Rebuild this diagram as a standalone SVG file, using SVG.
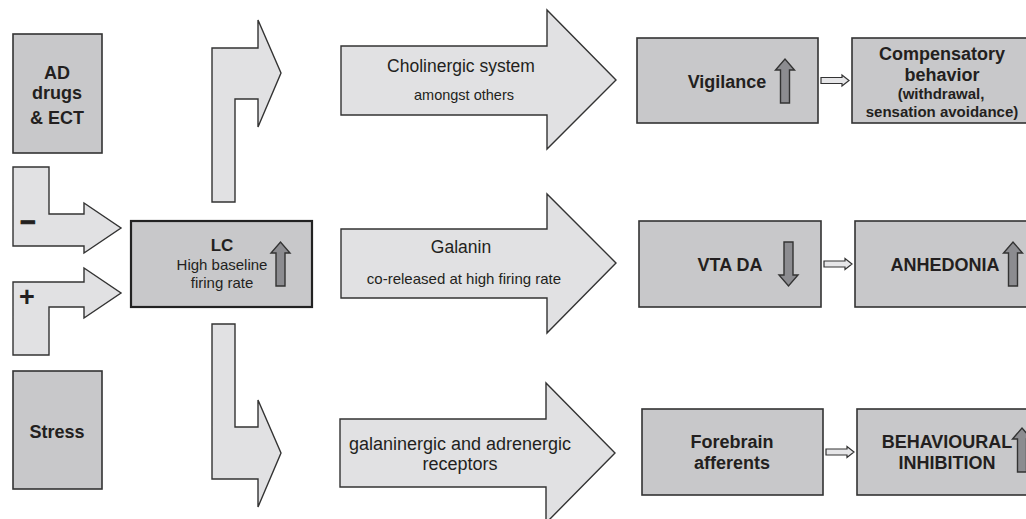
<svg xmlns="http://www.w3.org/2000/svg" xmlns:xlink="http://www.w3.org/1999/xlink" width="1026" height="519" viewBox="0 0 1026 519">
<style>
.box{fill:#c8c8ca;stroke:#333;stroke-width:1.6}
.lc{fill:#c8c8ca;stroke:#222;stroke-width:2.2}
.big{fill:#e1e1e3;stroke:#333;stroke-width:1.4;stroke-linejoin:miter}
.con{fill:#e6e6e8;stroke:#333;stroke-width:1.2}
.ind{fill:#8c8c90;stroke:#333;stroke-width:1.4}
.b{font-family:"Liberation Sans",Arial,sans-serif;font-weight:bold;fill:#231f20;text-anchor:middle}
.n{font-family:"Liberation Sans",Arial,sans-serif;fill:#231f20;text-anchor:middle}
.sign{stroke:#231f20;stroke-width:1}
</style>
<defs>
<path id="up" d="M-4.5,44 V11 H-9.5 L0,0 L9.5,11 H4.5 V44 Z"/>
<path id="down" d="M-4.5,0 H4.5 V33 H9.5 L0,44 L-9.5,33 H-4.5 Z"/>
</defs>
<rect width="1026" height="519" fill="#ffffff"/>

<g id="connectors">
<polygon class="big" points="13,167 49,167 49,214 84,214 84,203 121,228 84,253 84,246 13,246"/>
<polygon class="big" points="13,355 13,282 84,282 84,268 121,293 84,318 84,307 49,307 49,355"/>
<polygon class="big" points="212,202 212,48 258,48 258,20 281,73 258,127 258,99 235,99 235,202"/>
<polygon class="big" points="212,324 235,324 235,427 258,427 258,400 281,453 258,507 258,479 212,479"/>
<polygon class="big" points="341,46 547,46 547,10 616,80 547,149 547,115 341,115"/>
<polygon class="big" points="341,229 547,229 547,194 616,263 547,333 547,298 341,298"/>
<polygon class="big" points="340,419 546,419 546,383 615,453 546,523 546,487 340,487"/>
<path class="con" d="M821,77.5 H842 V75 L849,80.5 L842,86 V83.5 H821 Z"/>
<path class="con" d="M824,261 H845 V258.5 L852,264 L845,269.5 V267 H824 Z"/>
<path class="con" d="M826,449 H847 V446.5 L854,452 L847,457.5 V455 H826 Z"/>
<text class="b sign" x="28" y="231" font-size="27">−</text>
<text class="b" x="27" y="306" font-size="27">+</text>
<text class="n" x="461" y="72" font-size="17.5">Cholinergic system</text>
<text class="n" x="464" y="100" font-size="14.5">amongst others</text>
<text class="n" x="461" y="253" font-size="17.5">Galanin</text>
<text class="n" x="464" y="284" font-size="15">co-released at high firing rate</text>
<text class="n" x="460" y="450" font-size="18">galaninergic and adrenergic</text>
<text class="n" x="460" y="470" font-size="18">receptors</text>
</g>

<g id="ad">
<rect class="box" x="13" y="34" width="89" height="119"/>
<text class="b" x="57" y="79" font-size="18">AD</text>
<text class="b" x="57" y="99" font-size="18">drugs</text>
<text class="b" x="57" y="124" font-size="18">&amp; ECT</text>
</g>

<g id="stress">
<rect class="box" x="13" y="371" width="89" height="118"/>
<text class="b" x="57" y="438" font-size="18">Stress</text>
</g>

<g id="lc">
<rect class="lc" x="131" y="221" width="181" height="86"/>
<text class="b" x="222" y="251" font-size="17">LC</text>
<text class="n" x="222" y="270" font-size="15">High baseline</text>
<text class="n" x="222" y="288" font-size="15">firing rate</text>
<use xlink:href="#up" class="ind" x="280.5" y="242"/>
</g>

<g id="vigilance">
<rect class="box" x="637" y="38" width="181" height="85"/>
<text class="b" x="727" y="88" font-size="18">Vigilance</text>
<use xlink:href="#up" class="ind" x="785" y="59"/>
</g>

<g id="compensatory">
<rect class="box" x="852" y="38" width="180" height="85"/>
<text class="b" x="942" y="60" font-size="18">Compensatory</text>
<text class="b" x="942" y="81" font-size="18">behavior</text>
<text class="b" x="941" y="99" font-size="15">(withdrawal,</text>
<text class="b" x="942" y="117" font-size="15">sensation avoidance)</text>
</g>

<g id="vtada">
<rect class="box" x="639" y="221" width="182" height="86"/>
<text class="b" x="730" y="271" font-size="18">VTA DA</text>
<use xlink:href="#down" class="ind" x="788.5" y="242"/>
</g>

<g id="anhedonia">
<rect class="box" x="855" y="221" width="177" height="86"/>
<text class="b" x="945" y="271" font-size="18">ANHEDONIA</text>
<use xlink:href="#up" class="ind" x="1013" y="242"/>
</g>

<g id="forebrain">
<rect class="box" x="642" y="409" width="181" height="86"/>
<text class="b" x="732" y="448" font-size="18">Forebrain</text>
<text class="b" x="732" y="469" font-size="18">afferents</text>
</g>

<g id="behavioural">
<rect class="box" x="857" y="409" width="175" height="86"/>
<text class="b" x="947" y="448" font-size="18">BEHAVIOURAL</text>
<text class="b" x="947" y="469" font-size="18">INHIBITION</text>
<use xlink:href="#up" class="ind" x="1022" y="428"/>
</g>
</svg>
